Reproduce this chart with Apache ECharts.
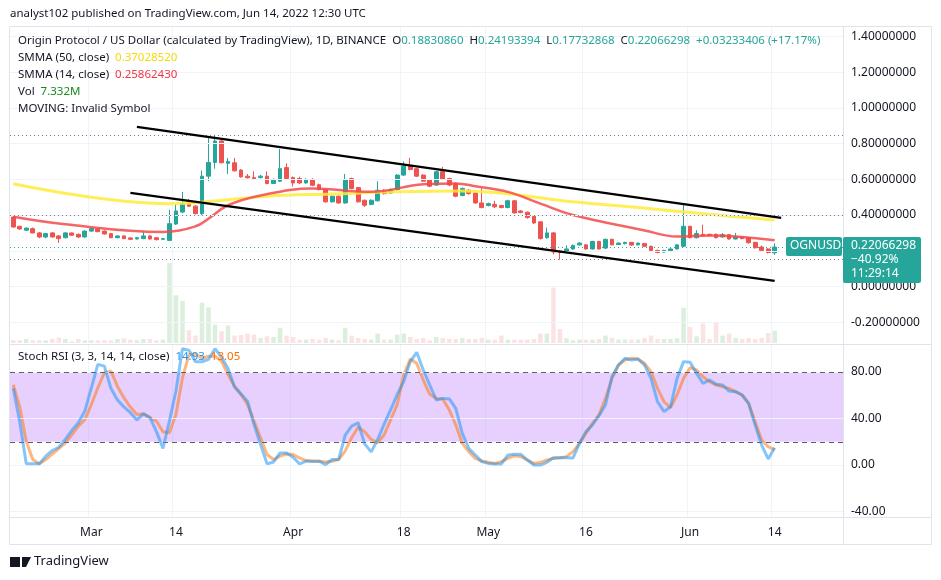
<!DOCTYPE html>
<html>
<head>
<meta charset="utf-8">
<script src="https://cdn.jsdelivr.net/npm/echarts@6/dist/echarts.min.js"></script>
<style>
  html, body { margin: 0; padding: 0; background: #fff; }
  #chart { width: 941px; height: 580px; }
</style>
</head>
<body>
<div id="chart"></div>
<script>
// daily OHLC, Feb 17 .. Jun 14 2022
const START_DATE = Date.UTC(2022, 1, 17);
const FUTURE_DAYS = 10;

const openVals = [.389,.337,.315,.324,.30,.277,.30,.283,.273,.30,.292,.277,.31,.322,.31,.296,.273,.283,.272,.266,
  .268,.283,.273,.264,.258,.35,.417,.464,.45,.408,.618,.695,.815,.69,.693,.652,.618,.61,.61,.618,
  .577,.59,.666,.61,.605,.58,.60,.57,.543,.474,.506,.468,.605,.554,.483,.46,.48,.539,.524,.543,
  .624,.674,.66,.624,.596,.568,.643,.605,.577,.51,.539,.524,.468,.453,.46,.453,.442,.48,.423,.416,
  .393,.362,.273,.30,.197,.19,.21,.233,.233,.21,.252,.215,.264,.235,.24,.247,.233,.24,.225,.202,
  .193,.20,.21,.225,.337,.273,.292,.292,.292,.277,.29,.266,.277,.273,.247,.221,.21,.1883];
const closeVals = [.333,.322,.327,.30,.277,.296,.277,.268,.30,.287,.277,.31,.324,.307,.294,.273,.283,.268,.264,.273,
  .283,.266,.262,.268,.352,.423,.464,.45,.408,.618,.695,.815,.693,.70,.648,.614,.609,.603,.618,.577,
  .60,.66,.605,.58,.58,.60,.567,.543,.474,.506,.468,.60,.549,.474,.455,.483,.539,.52,.543,.624,
  .674,.655,.618,.59,.562,.643,.60,.568,.506,.549,.52,.468,.442,.464,.446,.442,.48,.412,.414,.386,
  .356,.268,.30,.193,.19,.21,.23,.243,.21,.252,.21,.264,.233,.243,.247,.232,.243,.225,.202,.19,
  .202,.21,.233,.337,.273,.296,.284,.285,.273,.29,.266,.277,.268,.245,.217,.202,.19,.22066298];
const highVals = [.395,.34,.33,.33,.305,.30,.305,.288,.305,.302,.296,.315,.33,.326,.314,.30,.287,.287,.276,.276,
  .31,.287,.277,.272,.43,.46,.53,.49,.456,.65,.84,.85,.83,.72,.72,.658,.63,.645,.625,.645,
  .605,.77,.69,.616,.615,.606,.606,.576,.548,.51,.51,.63,.61,.558,.487,.488,.59,.545,.55,.63,
  .70,.72,.665,.63,.60,.648,.67,.61,.583,.555,.545,.528,.55,.47,.48,.458,.486,.485,.428,.42,
  .397,.366,.33,.305,.20,.23,.235,.247,.237,.256,.256,.268,.268,.247,.25,.25,.246,.244,.228,.206,
  .205,.213,.237,.465,.34,.315,.346,.296,.296,.30,.293,.30,.28,.276,.25,.23,.215,.24193394];
const lowVals = [.33,.318,.312,.298,.27,.27,.274,.244,.27,.284,.273,.274,.307,.304,.29,.27,.27,.265,.26,.263,
  .265,.263,.259,.261,.255,.345,.41,.445,.404,.40,.59,.66,.69,.63,.644,.61,.605,.598,.605,.572,
  .573,.585,.60,.56,.575,.576,.562,.538,.47,.47,.463,.464,.545,.47,.445,.455,.476,.515,.52,.538,
  .62,.65,.614,.585,.556,.563,.596,.562,.50,.505,.515,.463,.438,.449,.44,.438,.438,.408,.41,.38,
  .35,.263,.268,.18,.15,.186,.205,.228,.206,.206,.206,.21,.23,.232,.236,.228,.23,.22,.198,.186,
  .19,.196,.206,.22,.27,.27,.28,.282,.27,.274,.262,.263,.264,.24,.212,.198,.185,.17732868];
// volume, millions
const volumeVals = [1.6,1.6,2.4,1.6,1.6,1.6,2.4,3.2,2.4,1,2.4,1.6,1.6,1.6,1.6,1.6,2.4,2.8,2,1.6,2.4,2.4,1.6,2,
  47.6,28.4,25,7.6,4.4,24,21.2,11,7,10.4,4.4,4.8,5.6,5,3,4,3.6,9,4.4,3.6,2,2,2.4,2,3,2,1.6,9,4.4,3,2.4,2,5.6,2,2,5,5.6,3.6,2.4,3,1.6,3.6,3,2.4,2.4,3,
  2.4,2.4,3,2,2,4.4,2,2,2,2,2.4,5.6,5.6,33,8.4,2.8,1.6,2,2,2,2.4,4.4,3,2,2,2,2,3,4.4,2.4,
  2.4,2.4,2.8,21,9.6,4,11.6,2.4,12,4.4,5.6,3,2.4,3,2.4,3,6,7.332];

// moving averages read at sample days (day index, value)
const smma50Days = [0,24,29,39,49,59,69,76,86,96,107,117];
const smma50Vals = [.575,.464,.472,.506,.518,.53,.535,.52,.474,.442,.404,.372];
const smma14Days = [0,8,23,28,30,33,38,46,55,63,68,71,76,81,86,97,102,107,117];
const smma14Vals = [.39,.348,.305,.337,.38,.455,.51,.549,.53,.573,.577,.562,.53,.464,.40,.314,.28,.286,.259];

// trend channel drawn by the author: [dayIndex, price]
const upperChannel = [[19, .894], [118, .384]];
const lowerChannel = [[18, .524], [117, .031]];

const stochK = [66,37,1,1,1,7.6,12.5,15.3,22,29.8,36.3,46.4,66.4,86.5,85,66,56,50,45,38.7,
  44,41,28.7,14.3,38,63.6,100,98.6,88.8,88.8,90.8,100,92.8,83,67,61,54.9,34.8,17.6,1,
  2.6,10.4,10.4,6.7,1,3.3,3.3,3.3,0.4,4.7,4.7,25.6,33.4,36.3,18.2,11.3,21.9,35.4,47.7,60.6,
  71.7,88.9,96.9,81.7,68.8,55.9,57.3,56.8,48.7,27.2,14.3,8.6,2.9,1.4,0.9,0.9,8.6,9.2,9.2,4.3,
  0,0,2.3,6.3,6.3,6.3,6,18.6,28.7,34.4,42.4,51.6,75.9,86,91.8,90.3,91.1,86,74.5,54.4,
  45.9,50.1,74.5,88.9,88.3,78.8,70.2,73.1,69.4,68.8,63.6,63.1,60.2,53,34.4,17.2,5.2,14.93];
const stochD = [69,50,20.4,4.7,1,4.7,9.5,14.1,19,26,33.4,39,52,66.4,79.3,80.7,67.8,57.8,49.8,43.4,
  44,40.5,37.8,28.6,27.8,43.5,75,95,95.5,92,93.5,93.5,89.3,77.8,67.8,60.6,52,37.8,23.5,9,
  4.7,7.6,9.5,9,6.1,3.8,3.3,3.3,2.6,3.3,4.7,11.9,23.5,32.6,28.6,22,19,26,39,52,
  77.4,91.1,87.4,73.1,60.8,57.3,56.8,47.3,34.4,18.6,11.5,5.7,3.4,2.3,1.4,2.9,5.7,8,7.2,4.3,
  1.4,2.3,4.3,5.7,6.3,7.2,11.5,18.6,27.2,35.8,43,57.3,74.5,86,90.3,91.8,91.1,87.4,80.3,65.9,
  54.4,49.3,60.2,74.5,83.7,81.7,75.9,71.6,68.8,67.3,65.9,63.1,60.2,53,37.2,21.5,15.8,13.05];

const priceTicks = [-0.2, 0, 0.2, 0.4, 0.6, 0.8, 1.0, 1.2, 1.4];
const stochTicks = [-40, 0, 40, 80];
const dateTicks = ['2022-03-01','2022-03-14','2022-04-01','2022-04-18','2022-05-01','2022-05-16','2022-06-01','2022-06-14'];
const MONTHS = ['Jan','Feb','Mar','Apr','May','Jun','Jul'];

const UP = '#26a69a', DOWN = '#ef5350';
const FONT = 'Noto Sans';

const dates = [];
for (let i = 0; i < openVals.length + FUTURE_DAYS; i++) {
  dates.push(new Date(START_DATE + i * 86400000).toISOString().slice(0, 10));
}
const isTick = (i) => dateTicks.includes(dates[i]);
const dateLabel = (v) => {
  const d = new Date(v + 'T00:00:00Z');
  return d.getUTCDate() === 1 ? MONTHS[d.getUTCMonth()] : String(d.getUTCDate());
};

const candles = openVals.map((o, i) => [o, closeVals[i], lowVals[i], highVals[i]]);
const volumes = volumeVals.map((v, i) => ({
  value: v,
  itemStyle: { color: closeVals[i] >= openVals[i] ? 'rgba(76,175,80,0.2)' : 'rgba(239,83,80,0.16)' }
}));
function sparse(days, vals) {
  const arr = new Array(openVals.length).fill(null);
  days.forEach((d, k) => { arr[d] = vals[k]; });
  return arr;
}

const chart = echarts.init(document.getElementById('chart'));
const axisLabelStyle = { color: '#131722', fontFamily: FONT, fontSize: 12 };
const legendFont = '11.5px "Noto Sans"';

chart.setOption({
  animation: false,
  backgroundColor: '#fff',
  grid: [
    { left: 10, right: 98, top: 27, height: 316 },
    { left: 10, right: 98, top: 345, bottom: 63 }
  ],
  xAxis: [
    { type: 'category', gridIndex: 0, data: dates, boundaryGap: true,
      axisLine: { show: false }, axisTick: { show: false }, axisLabel: { show: false },
      splitLine: { show: true, interval: (i) => isTick(i), lineStyle: { color: '#f0f3fa' } } },
    { type: 'category', gridIndex: 1, data: dates, boundaryGap: true,
      axisLine: { show: false }, axisTick: { show: false },
      axisLabel: Object.assign({ interval: (i) => isTick(i), formatter: dateLabel, margin: 10 }, axisLabelStyle),
      splitLine: { show: true, interval: (i) => isTick(i), lineStyle: { color: '#f0f3fa' } } },
    { type: 'category', gridIndex: 0, data: dates, show: false }
  ],
  yAxis: [
    { type: 'value', gridIndex: 0, position: 'right', min: -0.317, max: 1.454,
      axisLine: { show: false }, axisTick: { show: false },
      axisLabel: Object.assign({ customValues: priceTicks, formatter: (v) => v.toFixed(8), margin: 8 }, axisLabelStyle),
      splitLine: { show: false } },
    { type: 'value', gridIndex: 1, position: 'right', min: -44.7, max: 103.2,
      axisLine: { show: false }, axisTick: { show: false },
      axisLabel: Object.assign({ customValues: stochTicks, formatter: (v) => v.toFixed(2), margin: 8 }, axisLabelStyle),
      splitLine: { show: false } },
    { type: 'value', gridIndex: 0, min: 0, max: 188, show: false }
  ],
  series: [
    { type: 'bar', xAxisIndex: 2, yAxisIndex: 2, data: volumes, barWidth: '70%', z: 1 },
    { type: 'line', xAxisIndex: 0, yAxisIndex: 0, data: [], z: 1,
      markLine: { silent: true, symbol: 'none', label: { show: false }, animation: false,
        data: [
          ...priceTicks.map((p) => ({ yAxis: p, lineStyle: { color: '#f0f3fa', type: 'solid', width: 1 } })),
          { yAxis: 0.853, lineStyle: { color: '#787b86', type: [1, 3], width: 1 } },
          { yAxis: 0.397, lineStyle: { color: '#787b86', type: [1, 3], width: 1 } },
          { yAxis: 0.148, lineStyle: { color: '#787b86', type: [1, 3], width: 1 } },
          { yAxis: 0.22066298, lineStyle: { color: UP, type: [1, 3], width: 1 } }
        ] } },
    { type: 'candlestick', xAxisIndex: 0, yAxisIndex: 0, data: candles, barWidth: '65%', z: 3,
      itemStyle: { color: UP, color0: DOWN, borderColor: UP, borderColor0: DOWN, borderWidth: 1 } },
    { type: 'line', xAxisIndex: 0, yAxisIndex: 0, data: sparse(smma50Days, smma50Vals), connectNulls: true,
      smooth: 0.4, showSymbol: false, z: 4, lineStyle: { color: '#ffeb3b', width: 3, opacity: 0.85 } },
    { type: 'line', xAxisIndex: 0, yAxisIndex: 0, data: sparse(smma14Days, smma14Vals), connectNulls: true,
      smooth: 0.4, showSymbol: false, z: 4, lineStyle: { color: '#f44a4a', width: 2.5, opacity: 0.85 } },
    { type: 'line', xAxisIndex: 0, yAxisIndex: 0, data: upperChannel, showSymbol: false, z: 5,
      lineStyle: { color: '#000', width: 2.2 } },
    { type: 'line', xAxisIndex: 0, yAxisIndex: 0, data: lowerChannel, showSymbol: false, z: 5,
      lineStyle: { color: '#000', width: 2.2 } },
    { type: 'line', xAxisIndex: 1, yAxisIndex: 1, data: stochD, showSymbol: false, z: 4,
      lineStyle: { color: '#ff6d00', width: 3, opacity: 0.5 },
      markArea: { silent: true, itemStyle: { color: 'rgba(186,120,250,0.35)' }, data: [[{ yAxis: 20 }, { yAxis: 80 }]] },
      markLine: { silent: true, symbol: 'none', label: { show: false },
        data: [
          ...stochTicks.map((p) => ({ yAxis: p, lineStyle: { color: '#f0f3fa', type: 'solid', width: 1 } })),
          { yAxis: 80, lineStyle: { color: '#5d606b', type: [5, 4], width: 1 } },
          { yAxis: 20, lineStyle: { color: '#5d606b', type: [5, 4], width: 1 } }
        ] } },
    { type: 'line', xAxisIndex: 1, yAxisIndex: 1, data: stochK, showSymbol: false, z: 5,
      lineStyle: { color: '#2196f3', width: 3, opacity: 0.55 } }
  ],
  graphic: [
    { type: 'text', left: 10, top: 8, style: { text: 'analyst102 published on TradingView.com, Jun 14, 2022 12:30 UTC', fill: '#131722', font: '11.5px "Noto Sans"' } },
    { type: 'rect', shape: { x: 9.5, y: 26.5, width: 922, height: 518 }, style: { fill: 'none', stroke: '#e0e3eb' }, z: 10 },
    { type: 'line', shape: { x1: 843.5, y1: 27, x2: 843.5, y2: 544 }, style: { stroke: '#e0e3eb' }, z: 10 },
    { type: 'line', shape: { x1: 10, y1: 344.5, x2: 931, y2: 344.5 }, style: { stroke: '#e0e3eb' }, z: 10 },
    { type: 'line', shape: { x1: 10, y1: 517.5, x2: 931, y2: 517.5 }, style: { stroke: '#e0e3eb' }, z: 10 },
    { type: 'text', left: 18, top: 35, z: 20, style: {
      text: 'Origin Protocol / US Dollar (calculated by TradingView), 1D, BINANCE  O{g|0.18830860}  H{g|0.24193394}  L{g|0.17732868}  C{g|0.22066298}  {g|+0.03233406 (+17.17%)}',
      fill: '#131722', font: legendFont, rich: { g: { fill: UP, font: legendFont } } } },
    { type: 'text', left: 18, top: 52, z: 20, style: { text: 'SMMA (50, close)  {y|0.37028520}', fill: '#131722', font: legendFont, rich: { y: { fill: '#f5d90a', font: legendFont } } } },
    { type: 'text', left: 18, top: 69, z: 20, style: { text: 'SMMA (14, close)  {r|0.25862430}', fill: '#131722', font: legendFont, rich: { r: { fill: '#f23645', font: legendFont } } } },
    { type: 'text', left: 18, top: 86, z: 20, style: { text: 'Vol  {v|7.332M}', fill: '#131722', font: legendFont, rich: { v: { fill: '#1b8a1b', font: legendFont } } } },
    { type: 'text', left: 18, top: 103, z: 20, style: { text: 'MOVING: Invalid Symbol', fill: '#131722', font: legendFont } },
    { type: 'text', left: 18, top: 351, z: 20, style: { text: 'Stoch RSI (3, 3, 14, 14, close)  {b|14.93}  {o|13.05}', fill: '#131722', font: legendFont,
      rich: { b: { fill: '#2196f3', font: legendFont }, o: { fill: '#ff6d00', font: legendFont } } } },
    { type: 'rect', z: 20, shape: { x: 786, y: 237, width: 56, height: 19, r: 2 }, style: { fill: UP } },
    { type: 'text', z: 21, left: 790, top: 240, style: { text: 'OGNUSD', fill: '#fff', font: '12px "Noto Sans"' } },
    { type: 'rect', z: 20, shape: { x: 843, y: 237, width: 78, height: 46, r: 2 }, style: { fill: UP } },
    { type: 'text', z: 21, left: 851, top: 239, style: { text: '0.22066298\n\u221240.92%\n11:29:14', fill: '#fff', font: '12px "Noto Sans"', lineHeight: 14 } },
    { type: 'text', left: 34, top: 555, style: { text: 'TradingView', fill: '#131722', font: '13px "Noto Sans"' } },
    { type: 'rect', shape: { x: 10, y: 557, width: 10, height: 10 }, style: { fill: '#131722' } },
    { type: 'polygon', shape: { points: [[22, 557], [31, 557], [26, 567], [22, 567]] }, style: { fill: '#131722' } }
  ]
});
</script>
</body>
</html>
